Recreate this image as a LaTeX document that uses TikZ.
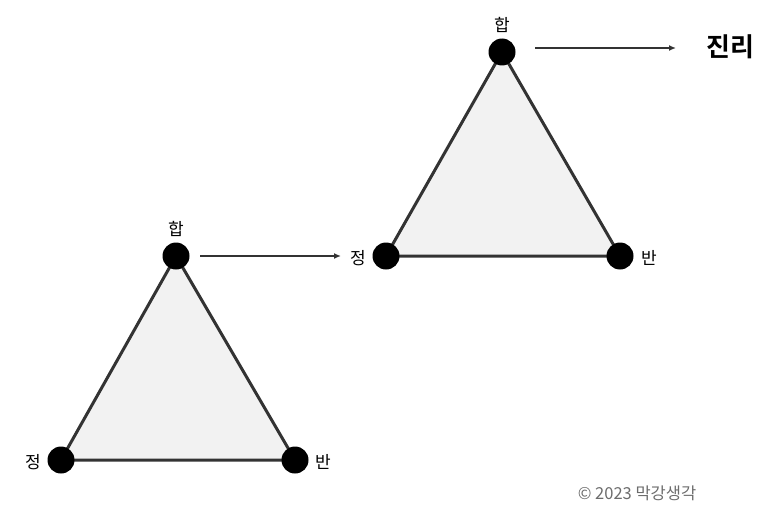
\documentclass[tikz,border=0pt]{standalone}
\usepackage{fontspec}
\newfontfamily\kr{Noto Sans CJK KR}
\newfontfamily\krb{Noto Sans CJK KR Bold}
\usetikzlibrary{arrows.meta}
\definecolor{edge}{HTML}{333333}
\definecolor{tri}{HTML}{F2F2F2}
\tikzset{
  dot/.style={circle,fill=black,inner sep=0pt,minimum size=27pt},
  lbl/.style={font=\kr\fontsize{17}{17}\selectfont,inner sep=0pt},
  side/.style={draw=edge,line width=3pt},
  conn/.style={draw=edge,line width=2pt,-{Latex[length=7pt,width=6pt]}}
}
\begin{document}
\begin{tikzpicture}[x=1pt,y=-1pt]
\useasboundingbox (0,0) rectangle (768,511);
% triangle 1
\coordinate (t1) at (176,256);
\coordinate (l1) at (61,460);
\coordinate (r1) at (295,460);
\fill[tri] (t1) -- (l1) -- (r1) -- cycle;
\draw[side,line join=round] (t1) -- (l1) -- (r1) -- cycle;
\node[dot] (T1) at (t1) {};
\node[dot] (L1) at (l1) {};
\node[dot] (R1) at (r1) {};
\node[lbl] (h1) at (176,229) {합};
\node[lbl] (j1) at (33,462) {정};
\node[lbl] (b1) at (323,462) {반};
% triangle 2
\coordinate (t2) at (502,52);
\coordinate (l2) at (386,256);
\coordinate (r2) at (620,256);
\fill[tri] (t2) -- (l2) -- (r2) -- cycle;
\draw[side,line join=round] (t2) -- (l2) -- (r2) -- cycle;
\node[dot] (T2) at (t2) {};
\node[dot] (L2) at (l2) {};
\node[dot] (R2) at (r2) {};
\node[lbl] (h2) at (502,25) {합};
\node[lbl] (j2) at (358,258) {정};
\node[lbl] (b2) at (649,258) {반};
% arrows
\coordinate (a1s) at (200,256);
\coordinate (a1e) at (341,256);
\draw[conn] (a1s) -- (a1e);
\coordinate (a2s) at (535,48);
\coordinate (a2e) at (676,48);
\draw[conn] (a2s) -- (a2e);
\node[font=\krb\fontsize{26}{26}\selectfont,inner sep=0pt] (truth) at (730,47) {진리};
\node[font=\kr\fontsize{16.5}{16.5}\selectfont,text=gray!85!black,inner sep=0pt] (copy) at (637,493) {© 2023 막강생각};
\end{tikzpicture}
\end{document}
